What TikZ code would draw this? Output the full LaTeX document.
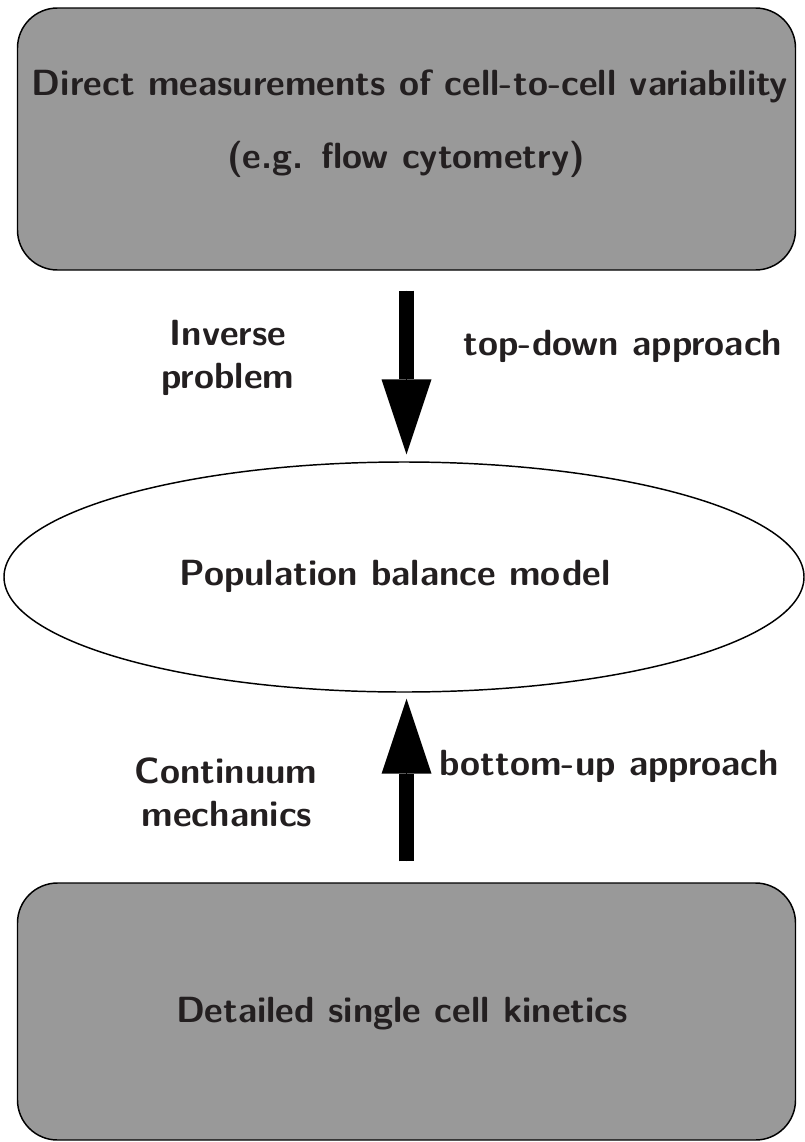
\documentclass[tikz,border=0pt]{standalone}
\usetikzlibrary{arrows.meta,shapes.geometric}
\definecolor{boxgray}{HTML}{999999}
\definecolor{txt}{HTML}{231F20}
\begin{document}
\begin{tikzpicture}[x=0.75pt,y=-0.75pt,
  lbl/.style={font=\sffamily\bfseries\fontsize{27.3}{33}\selectfont, text=txt, inner sep=0pt, anchor=base},
  graybox/.style={draw=black, fill=boxgray, rounded corners=30pt, line width=1.1pt, inner sep=0pt, minimum width=583.5pt},
  ellbox/.style={draw=black, fill=white, ellipse, line width=1.1pt, inner sep=0pt, minimum width=600pt, minimum height=172.5pt},
  bigarrow/.style={line width=11.25pt, -{Triangle[width=37.5pt,length=56.25pt,line width=0pt]},
    preaction={draw, -, shorten >=30pt}}
]
\useasboundingbox (0,0) rectangle (805,1142);
\node[graybox, minimum height=196.5pt] (meas) at (406.5,139) {};
\node[ellbox] (pbm) at (404,577) {};
\node[graybox, minimum height=192.75pt] (kin) at (406.5,1011.5) {};

\node[lbl] (t1) at (410,95) {Direct measurements of cell-to-cell variability};
\node[lbl] (t2) at (406,168) {(e.g. flow cytometry)};
\node[lbl] (t3) at (395,585) {Population balance model};
\node[lbl] (t4) at (402,1022) {Detailed single cell kinetics};

\node[lbl] (inv) at (228,345) {Inverse};
\node[lbl] (prob) at (228,388) {problem};
\node[lbl] (td) at (623,355) {top-down approach};
\node[lbl] (cont) at (226,783) {Continuum};
\node[lbl] (mech) at (227,826) {mechanics};
\node[lbl] (bu) at (609,775) {bottom-up approach};

\coordinate (e1) at (meas.south |- pbm.north);
\coordinate (e2) at (kin.north |- pbm.south);
\draw[bigarrow] ([yshift=-15pt]meas.south) -- ([yshift=5.25pt]e1);
\draw[bigarrow] ([yshift=15.75pt]kin.north) -- ([yshift=-4.5pt]e2);
\end{tikzpicture}
\end{document}
